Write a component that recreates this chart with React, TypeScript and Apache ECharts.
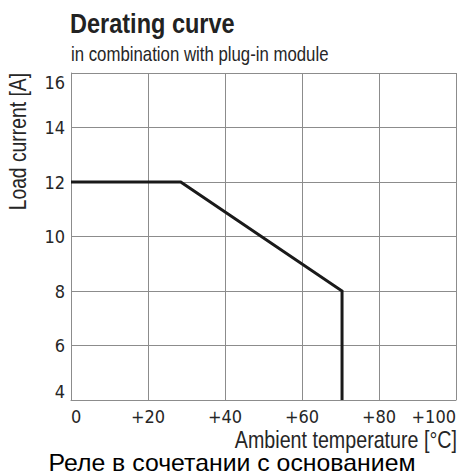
import React, { useEffect, useRef } from "react";
import * as echarts from "echarts";

// Data
const temperature = [0, 28.5, 70.4, 70.4]; // °C
const loadCurrent = [12, 12, 8, 4]; // A
const xTicks = [0, 20, 40, 60, 80, 100];
const yTicks = [4, 6, 8, 10, 12, 14, 16];

const titleText = "Derating curve";
const subtitleText = "in combination with plug-in module";
const yName = "Load current [A]";
const xName = "Ambient temperature [°C]";
const captionText = "Реле в сочетании с основанием";

const NARROW = "'DejaVu Sans Condensed', 'Liberation Sans', sans-serif";
const SANS = "'Liberation Sans', Arial, 'DejaVu Sans', sans-serif";
const GRID = "#8c8c8c";
const TEXT = "#262626";

export default function App() {
  const ref = useRef<HTMLDivElement>(null);
  useEffect(() => {
    const chart = echarts.init(ref.current!, null, { renderer: "svg" });
    const data = temperature.map((t, i) => [t, loadCurrent[i]]);
    chart.setOption({
      animation: false,
      grid: { left: 71, right: 2, top: 73, bottom: 75, containLabel: false },
      xAxis: {
        type: "value",
        min: xTicks[0],
        max: xTicks[xTicks.length - 1],
        interval: 20,
        axisLine: { show: true, lineStyle: { color: GRID, width: 1 } },
        axisTick: { show: false },
        splitLine: { show: true, lineStyle: { color: GRID, width: 1 } },
        axisLabel: {
          formatter: (v: number) => (v === 0 ? "0" : "+" + v),
          fontFamily: NARROW,
          fontSize: 18,
          color: TEXT,
          margin: 7,
          alignMinLabel: "left",
          alignMaxLabel: "right",
        },
      },
      yAxis: {
        type: "value",
        min: yTicks[0],
        max: yTicks[yTicks.length - 1],
        interval: 2,
        axisLine: { show: true, lineStyle: { color: GRID, width: 1 } },
        axisTick: { show: false },
        splitLine: { show: true, lineStyle: { color: GRID, width: 1 } },
        axisLabel: {
          fontFamily: NARROW,
          fontSize: 18,
          color: TEXT,
          margin: 6,
          verticalAlignMinLabel: "bottom",
          verticalAlignMaxLabel: "top",
        },
      },
      series: [
        {
          type: "line",
          data,
          symbol: "none",
          silent: true,
          lineStyle: { color: "#1a1a1a", width: 3, join: "miter" },
        },
      ],
      graphic: [
        {
          type: "text",
          x: 70,
          y: 23,
          scaleX: 0.84,
          style: {
            text: titleText,
            fontFamily: SANS,
            fontWeight: "bold",
            fontSize: 28,
            fill: "#222",
            align: "left",
            verticalAlign: "middle",
          },
        },
        {
          type: "text",
          x: 71,
          y: 54,
          scaleX: 0.84,
          style: {
            text: subtitleText,
            fontFamily: SANS,
            fontSize: 20,
            fill: TEXT,
            align: "left",
            verticalAlign: "middle",
          },
        },
        {
          type: "text",
          x: 18,
          y: 73,
          rotation: Math.PI / 2,
          scaleX: 0.84,
          style: {
            text: yName,
            fontFamily: SANS,
            fontSize: 23,
            fill: TEXT,
            align: "right",
            verticalAlign: "middle",
          },
        },
        {
          type: "text",
          x: 457,
          y: 439.5,
          scaleX: 0.82,
          style: {
            text: xName,
            fontFamily: SANS,
            fontSize: 24,
            fill: TEXT,
            align: "right",
            verticalAlign: "middle",
          },
        },
        {
          type: "text",
          x: 232,
          y: 474.5,
          scaleX: 1.08,
          style: {
            text: captionText,
            fontFamily: SANS,
            fontSize: 23,
            fill: "#000",
            align: "center",
            verticalAlign: "bottom",
          },
        },
      ],
    });
    return () => chart.dispose();
  }, []);
  return (
    <div
      ref={ref}
      style={{ position: "absolute", left: 0, top: 0, width: 459, height: 475 }}
    />
  );
}
